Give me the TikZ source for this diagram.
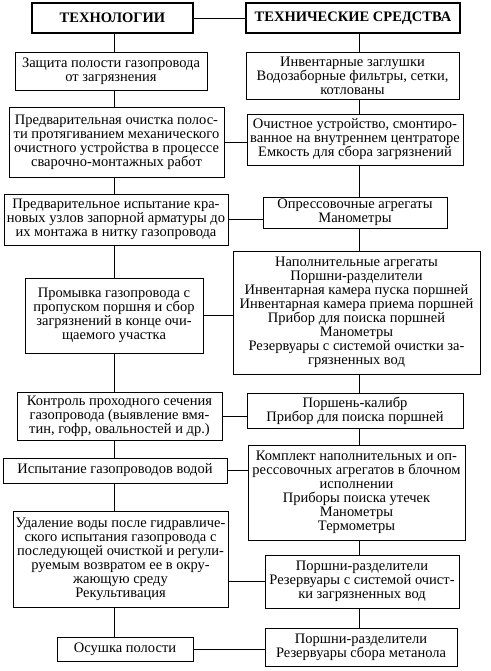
\documentclass[tikz,border=0pt]{standalone}
\usepackage{fontspec}
\setmainfont{Liberation Serif}
\usetikzlibrary{positioning,calc}

\begin{document}
\begin{tikzpicture}[x=1pt,y=-1pt,
        box/.style={draw,line width=0.9pt,align=center,inner sep=0pt,
          font=\fontsize{14.5}{14}\selectfont},
        head/.style={box,line width=1.8pt,font=\fontsize{14.5}{14}\selectfont\bfseries},
        link/.style={line width=0.9pt}]
      \useasboundingbox (0,0) rectangle (490,671);
      \coordinate (lx) at (114,0);
      \coordinate (rx) at (359,0);
      %% headers
      \node[head,minimum width=161pt,minimum height=30pt] (t_0) at (112.5,18) {ТЕХНОЛОГИИ};
      \node[head,minimum width=214pt,minimum height=30pt] (s_0) at (353,18) {ТЕХНИЧЕСКИЕ СРЕДСТВА};
      %% technologies
      \node[box,minimum width=192pt,minimum height=38pt] (t_1) at (111,71)
        {Защита полости газопровода\\от загрязнения};
      \node[box,minimum width=215pt,minimum height=70pt] (t_2) at (116.5,142)
        {Предварительная очистка полос-\\ти протягиванием механического\\очистного устройства в процессе\\сварочно-монтажных работ};
      \node[box,minimum width=224pt,minimum height=51pt] (t_3) at (116,219.5)
        {Предварительное испытание кра-\\новых узлов запорной арматуры до\\их монтажа в нитку газопровода};
      \node[box,minimum width=178pt,minimum height=75pt] (t_4) at (114,315.5)
        {Промывка газопровода с\\пропуском поршня и сбор\\загрязнений в конце очи-\\щаемого участка};
      \node[box,minimum width=205pt,minimum height=48pt] (t_5) at (119.5,416)
        {Контроль проходного сечения\\газопровода (выявление вмя-\\тин, гофр, овальностей и др.)};
      \node[box,minimum width=224pt,minimum height=25pt] (t_6) at (115,470.5)
        {Испытание газопроводов водой};
      \node[box,minimum width=215pt,minimum height=96pt] (t_7) at (120.5,559)
        {Удаление воды после гидравличе-\\ского испытания газопровода с\\последующей очисткой и регули-\\руемым возвратом ее в окру-\\жающую среду\\Рекультивация};
      \node[box,minimum width=136pt,minimum height=24pt] (t_8) at (125,649)
        {Осушка полости};
      %% technical means
      \node[box,minimum width=213pt,minimum height=47pt] (s_1) at (352.5,75.5)
        {Инвентарные заглушки\\Водозаборные фильтры, сетки,\\котлованы};
      \node[box,minimum width=216pt,minimum height=51pt] (s_2) at (355,139.5)
        {Очистное устройство, смонтиро-\\ванное на внутреннем центраторе\\Емкость для сбора загрязнений};
      \node[box,minimum width=184pt,minimum height=31pt] (s_3) at (355,212.5)
        {Опрессовочные агрегаты\\Манометры};
      \node[box,minimum width=247pt,minimum height=123pt] (s_4) at (356.5,312.5)
        {Наполнительные агрегаты\\Поршни-разделители\\Инвентарная камера пуска поршней\\Инвентарная камера приема поршней\\Прибор для поиска поршней\\Манометры\\Резервуары с системой очистки за-\\грязненных вод};
      \node[box,minimum width=216pt,minimum height=35pt] (s_5) at (355,410.5)
        {Поршень-калибр\\Прибор для поиска поршней};
      \node[box,minimum width=217pt,minimum height=95pt] (s_6) at (356.5,492.5)
        {Комплект наполнительных и оп-\\рессовочных агрегатов в блочном\\исполнении\\Приборы поиска утечек\\Манометры\\Термометры};
      \node[box,minimum width=194pt,minimum height=53pt] (s_7) at (362,581.5)
        {Поршни-разделители\\Резервуары с системой очист-\\ки загрязненных вод};
      \node[box,minimum width=192pt,minimum height=38pt] (s_8) at (361,647)
        {Поршни-разделители\\Резервуары сбора метанола};
      %% vertical links
      \foreach \a/\b in {0/1,1/2,2/3,3/4,4/5,5/6,6/7,7/8} {
        \draw[link] (t_\a.south -| lx) -- (t_\b.north -| lx);
        \draw[link] (s_\a.south -| rx) -- (s_\b.north -| rx);
      }
      %% horizontal links
      \draw[link] (t_0.east) -- (t_0.east -| s_0.west);
      \foreach \i in {2,3,4,5,6,8}
        \draw[link] (t_\i.east) -- (t_\i.east -| s_\i.west);
      \draw[link] (s_7.west -| t_7.east) -- (s_7.west);
    \end{tikzpicture}
\end{document}
